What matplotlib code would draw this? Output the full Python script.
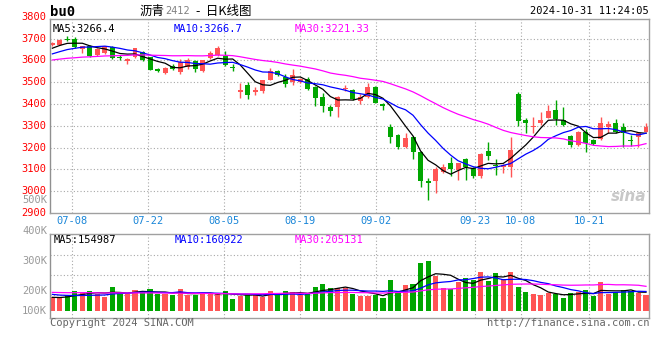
import numpy as np
import pandas as pd
import matplotlib.pyplot as plt
from matplotlib.transforms import blended_transform_factory

plt.rcParams['font.family'] = ['DejaVu Sans Mono', 'Noto Sans CJK SC']

# trading days shown (2024)
dates = ['07-03', '07-04', '07-05', '07-08', '07-09', '07-10', '07-11', '07-12', '07-15', '07-16',
         '07-17', '07-18', '07-19', '07-22', '07-23', '07-24', '07-25', '07-26', '07-29', '07-30',
         '07-31', '08-01', '08-02', '08-05', '08-06', '08-07', '08-08', '08-09', '08-12', '08-13',
         '08-14', '08-15', '08-16', '08-19', '08-20', '08-21', '08-22', '08-23', '08-26', '08-27',
         '08-28', '08-29', '08-30', '09-02', '09-03', '09-04', '09-05', '09-06', '09-09', '09-10',
         '09-11', '09-12', '09-13', '09-18', '09-19', '09-20', '09-23', '09-24', '09-25', '09-26',
         '09-27', '09-30', '10-08', '10-09', '10-10', '10-11', '10-14', '10-15', '10-16', '10-17',
         '10-18', '10-21', '10-22', '10-23', '10-24', '10-25', '10-28', '10-29', '10-30', '10-31']

open_ = [3671, 3671, 3700, 3699, 3652, 3667, 3625, 3636, 3662, 3617,
         3596, 3616, 3638, 3614, 3559, 3542, 3574, 3545, 3568, 3596,
         3550, 3612, 3626, 3620, 3571, 3455, 3488, 3455, 3460, 3511,
         3552, 3526, 3500, 3502, 3514, 3476, 3433, 3388, 3388, 3470,
         3464, 3412, 3432, 3478, 3400, 3296, 3258, 3205, 3250, 3181,
         3045, 3045, 3090, 3131, 3098, 3148, 3105, 3068, 3185, 3121,
         3110, 3110, 3446, 3326, 3294, 3315, 3338, 3373, 3327, 3254,
         3212, 3274, 3236, 3239, 3293, 3312, 3296, 3234, 3248, 3274]
high = [3686, 3696, 3712, 3707, 3666, 3671, 3655, 3668, 3668, 3626,
        3612, 3658, 3645, 3618, 3565, 3570, 3584, 3606, 3610, 3600,
        3604, 3644, 3664, 3644, 3585, 3495, 3500, 3478, 3512, 3564,
        3556, 3538, 3560, 3520, 3526, 3485, 3450, 3396, 3438, 3488,
        3468, 3445, 3495, 3482, 3404, 3309, 3263, 3266, 3254, 3183,
        3060, 3110, 3127, 3156, 3130, 3152, 3113, 3175, 3228, 3146,
        3125, 3248, 3457, 3335, 3342, 3365, 3397, 3419, 3386, 3258,
        3276, 3285, 3240, 3340, 3320, 3330, 3312, 3258, 3274, 3315]
low = [3668, 3669, 3688, 3656, 3636, 3617, 3620, 3630, 3608, 3603,
       3585, 3612, 3598, 3555, 3546, 3538, 3555, 3538, 3562, 3549,
       3546, 3608, 3622, 3573, 3550, 3427, 3424, 3440, 3450, 3508,
       3527, 3478, 3488, 3495, 3463, 3392, 3365, 3345, 3340, 3458,
       3420, 3402, 3426, 3403, 3373, 3223, 3193, 3200, 3148, 3021,
       2960, 2990, 3082, 3070, 3052, 3050, 3063, 3063, 3143, 3074,
       3085, 3067, 3301, 3268, 3269, 3304, 3335, 3304, 3300, 3204,
       3208, 3182, 3214, 3235, 3266, 3266, 3205, 3208, 3205, 3272]
close = [3682, 3694, 3693, 3661, 3664, 3622, 3652, 3664, 3612, 3609,
         3608, 3656, 3604, 3558, 3552, 3567, 3560, 3594, 3600, 3560,
         3600, 3633, 3658, 3578, 3564, 3464, 3442, 3463, 3508, 3552,
         3531, 3490, 3533, 3514, 3470, 3430, 3392, 3366, 3434, 3474,
         3425, 3433, 3478, 3407, 3389, 3251, 3203, 3243, 3182, 3045,
         3037, 3100, 3110, 3100, 3128, 3110, 3072, 3170, 3160, 3116,
         3120, 3189, 3324, 3312, 3297, 3327, 3368, 3332, 3305, 3213,
         3274, 3221, 3218, 3311, 3309, 3274, 3265, 3231, 3266, 3293]
# volume in lots
volume = [117, 109, 132, 165, 157, 165, 137, 117, 199, 148,
          137, 173, 154, 182, 137, 137, 132, 182, 132, 132,
          148, 148, 137, 165, 98, 126, 132, 140, 117, 165,
          137, 165, 157, 132, 137, 199, 224, 190, 190, 188,
          137, 126, 126, 132, 109, 257, 159, 215, 224, 402,
          416, 293, 193, 182, 238, 277, 257, 327, 249, 318,
          263, 327, 201, 159, 140, 132, 151, 137, 109, 151,
          159, 173, 126, 243, 137, 154, 173, 165, 151, 132]
volume = [v * 1000 for v in volume]

# sessions before 07-03, only feed the moving averages
prior_close = [3570, 3582, 3590, 3575, 3580, 3596, 3602, 3588, 3578, 3585,
               3594, 3600, 3590, 3582, 3586, 3598, 3592, 3580, 3588, 3605,
               3590, 3598, 3604, 3612, 3616, 3630, 3645, 3658, 3665]
prior_volume = [150, 175, 160, 145, 170, 182, 155, 148, 166, 172,
                158, 150, 176, 165, 140, 168, 180, 152, 160, 168,
                170, 158, 175, 150, 157, 118, 105, 112, 109]
prior_volume = [v * 1000 for v in prior_volume]

tick_dates = ['07-08', '07-22', '08-05', '08-19', '09-02', '09-23', '10-08', '10-21']

RED = '#ff5454'
GREEN = '#00a600'
GRID = '#a8a8a8'
ma_colors = {5: 'black', 10: '#0000ff', 30: '#ff00ff'}

W, H = 660, 360


def fx(x):
    return x / W


def fy(y):
    return 1 - y / H


o = np.array(open_)
c = np.array(close)
hi = np.array(high)
lo = np.array(low)
vol = np.array(volume)
x = np.arange(len(dates))
up = c >= o
colors = np.where(up, RED, GREEN)

fig = plt.figure(figsize=(6.6, 3.6), dpi=100)
ax_p = fig.add_axes([fx(50), fy(213.3), fx(599), 194.3 / H])
ax_v = fig.add_axes([fx(50), fy(318), fx(599), 84 / H])

# sina's date grid runs on a slightly wider step than the candles
tick_idx = np.array([dates.index(d) for d in tick_dates])
tick_pos = tick_idx * 1.012 - 0.42

for ax in (ax_p, ax_v):
    ax.set_xlim(-0.31, 79.4)
    ax.set_xticks(tick_pos)
    ax.set_xticklabels([])
    ax.tick_params(length=0, labelleft=False)
    ax.grid(True, color=GRID, linestyle=(0, (1, 2)), linewidth=0.8)
    ax.set_axisbelow(True)
    for s in ax.spines.values():
        s.set_color('#a0a0a0')
        s.set_linewidth(1)
    ax.spines['left'].set_color('#909090')

# ---- price panel
ax_p.set_ylim(2899, 3790)
ax_p.set_yticks(range(3000, 3800, 100))
ax_p.vlines(x, lo, hi, colors=colors, linewidth=1)
body = np.maximum(np.abs(c - o), 4)
ax_p.bar(x, body, bottom=np.minimum(o, c), width=0.66, color=colors, linewidth=0)

all_close = pd.Series(prior_close + close)
for n in (5, 10, 30):
    ma = all_close.rolling(n).mean().values[len(prior_close):]
    ax_p.plot(x, ma, color=ma_colors[n], linewidth=0.9)

trans = blended_transform_factory(ax_p.transAxes, ax_p.transData)
for p in range(2900, 3900, 100):
    ax_p.text(-0.006, p, str(p), transform=trans, ha='right', va='center',
              color='#ff0000', fontsize=7.5, clip_on=False)

ax_p.text(fx(53 - 50) / fx(599), 0.975, 'MA5:3266.4', transform=ax_p.transAxes,
          color='black', fontsize=7.5, va='top')
ax_p.text(fx(174 - 50) / fx(599), 0.975, 'MA10:3266.7', transform=ax_p.transAxes,
          color='#0000ff', fontsize=7.5, va='top')
ax_p.text(fx(295 - 50) / fx(599), 0.975, 'MA30:3221.33', transform=ax_p.transAxes,
          color='#ff00ff', fontsize=7.5, va='top')

ax_p.text(0.995, 0.05, 'sina', transform=ax_p.transAxes, ha='right', va='bottom',
          color='#c8c8c8', fontsize=11, fontweight='bold', style='italic',
          family='DejaVu Sans')

# ---- volume panel
ax_v.set_ylim(-61000, 643000)
ax_v.set_yticks([131000, 299000, 467000])
ax_v.bar(x, vol, width=0.68, color=colors, linewidth=0)
all_vol = pd.Series(prior_volume + volume)
for n in (5, 10, 30):
    ma = all_vol.rolling(n).mean().values[len(prior_volume):]
    ax_v.plot(x, ma, color=ma_colors[n], linewidth=0.9)

ax_v.text(fx(4) / fx(599), 0.985, 'MA5:154987', transform=ax_v.transAxes,
          color='black', fontsize=7.5, va='top')
ax_v.text(fx(125) / fx(599), 0.985, 'MA10:160922', transform=ax_v.transAxes,
          color='#0000ff', fontsize=7.5, va='top')
ax_v.text(fx(245) / fx(599), 0.985, 'MA30:205131', transform=ax_v.transAxes,
          color='#ff00ff', fontsize=7.5, va='top')

# sina's volume labels sit on their own spacing
for lab, yy in [('500K', 200), ('400K', 230.7), ('300K', 260.7), ('200K', 290.7), ('100K', 310.7)]:
    fig.text(fx(47), fy(yy), lab, ha='right', va='center', color='#999999', fontsize=7.5)

# date labels between the panels
date_trans = blended_transform_factory(ax_p.transData, ax_p.transAxes)
for d, p in zip(tick_dates, tick_pos):
    ax_p.text(p, -0.041, d, transform=date_trans,
              ha='center', va='center', color='#1a86d8', fontsize=7.5)

# ---- header / footer
fig.text(fx(50), fy(11.5), 'bu0', ha='left', va='center', fontsize=10,
         fontweight='bold', color='black')
fig.text(fx(140), fy(11), '沥青', ha='left', va='center', fontsize=9,
         family=['Noto Sans CJK SC'])
fig.text(fx(165), fy(11), '2412', ha='left', va='center', fontsize=7, color='#808080',
         family=['DejaVu Sans'])
fig.text(fx(196), fy(11), '-  日K线图', ha='left', va='center', fontsize=9,
         family=['Noto Sans CJK SC'])
fig.text(fx(649), fy(11.5), '2024-10-31 11:24:05', ha='right', va='center',
         fontsize=7.5, color='black')
fig.text(fx(50), fy(323), 'Copyright 2024 SINA.COM', ha='left', va='center',
         fontsize=7.5, color='#666666')
fig.text(fx(649), fy(323.5), 'http://finance.sina.com.cn', ha='right', va='center',
         fontsize=7.5, color='#666666')

fig.savefig('out.png', dpi=100, facecolor='white')
